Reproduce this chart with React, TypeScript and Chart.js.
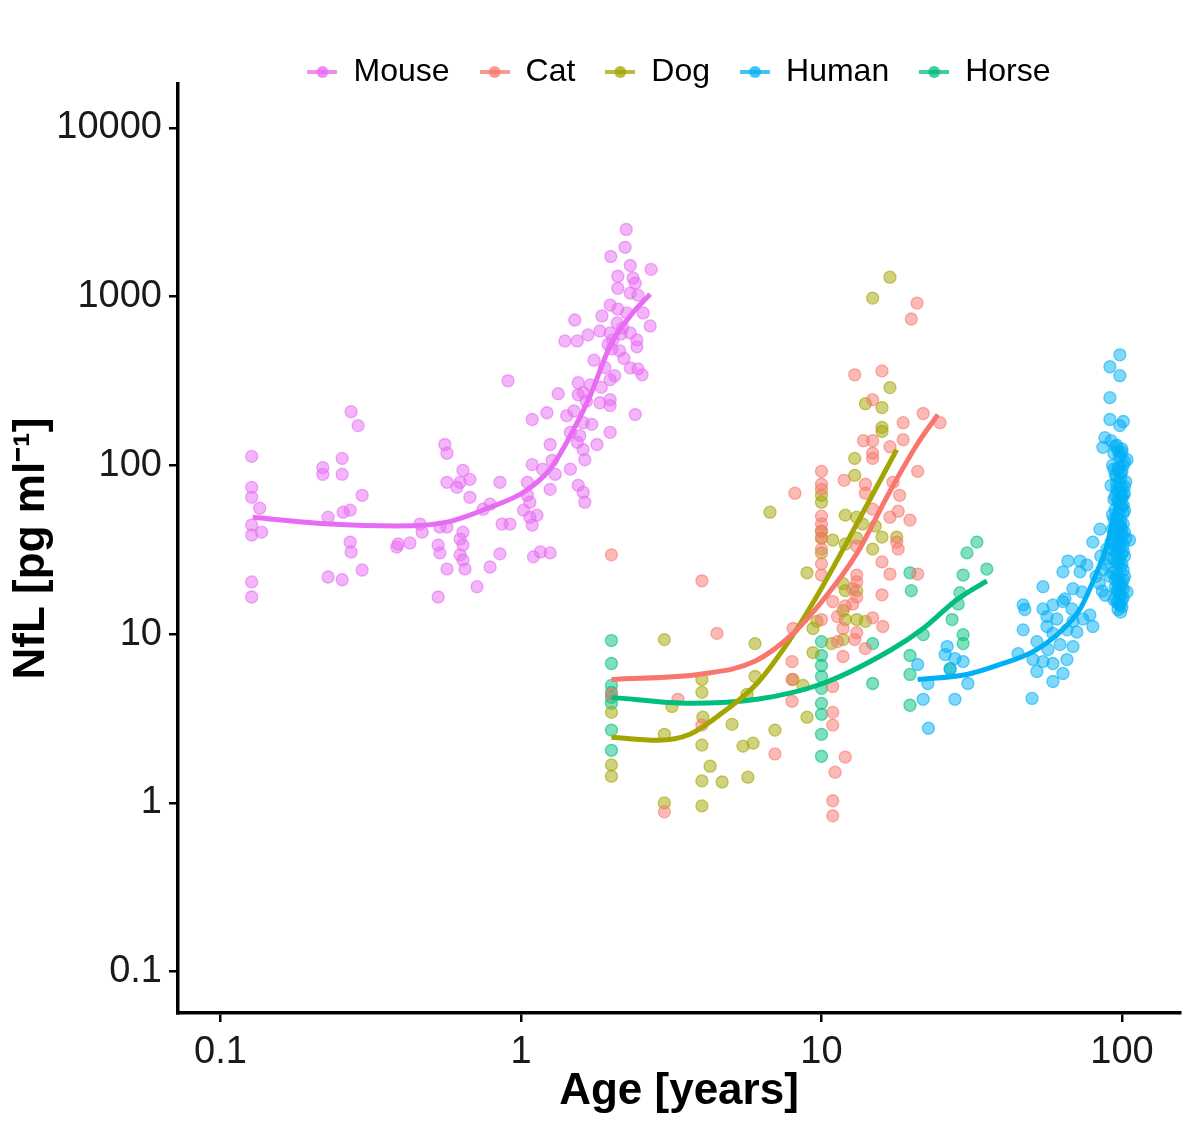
import { useEffect, useRef } from "react";
import { Chart, registerables } from "chart.js";

Chart.register(...registerables);

// ---- data: [age in years, NfL in pg/ml] ----
const species = ["Mouse", "Cat", "Dog", "Human", "Horse"];

const mousePoints = [
  [2.24, 2500], [2.22, 1960], [1.99, 1730], [2.31, 1530], [2.71, 1450], [2.1, 1320], [2.36, 1290],
  [2.4, 1200], [2.1, 1120], [2.31, 1050], [2.45, 1020], [1.98, 891], [2.1, 844], [2.25, 800],
  [2.55, 800], [1.86, 768], [1.51, 727], [2.09, 698], [2.18, 652], [2.69, 670], [1.83, 626],
  [1.98, 609], [2.31, 609], [1.67, 593], [1.4, 546], [1.54, 546], [2.02, 554], [2.43, 554],
  [2.01, 490], [2.13, 477], [2.43, 504], [2.31, 378], [2.53, 344], [2.45, 373], [0.905, 317],
  [1.55, 309], [1.98, 322], [1.33, 266], [1.55, 262], [1.61, 270], [1.83, 235], [1.98, 245],
  [1.98, 226], [1.22, 205], [1.42, 197], [1.61, 179], [1.72, 175], [1.09, 187], [2.4, 200],
  [1.46, 157], [1.57, 150], [1.98, 157], [1.79, 133], [1.61, 124], [1.54, 137], [1.25, 133],
  [1.27, 107], [1.63, 108], [1.09, 101], [1.18, 95], [1.3, 88.5], [1.46, 95], [0.851, 79.4],
  [1.05, 79.4], [1.55, 76.2], [1.61, 69.3], [1.63, 60.5], [1.25, 72.1], [1.05, 66.5], [1.07, 60.5],
  [1.02, 54.3], [1.07, 49.3], [1.13, 50.7], [1.09, 44.3], [0.789, 58.9], [0.748, 55], [0.865, 44.9],
  [0.919, 44.9], [0.676, 64.7], [0.567, 79.4], [0.612, 74.1], [0.641, 93.5], [0.676, 82.6],
  [0.627, 79.4], [0.558, 133], [0.567, 118], [0.851, 29.9], [1.25, 30.3], [1.16, 30.7], [1.1, 28.7],
  [0.789, 25], [0.714, 19.1], [0.641, 40.2], [0.627, 36.6], [0.641, 33.7], [0.627, 29.5],
  [0.641, 27.5], [0.651, 24.3], [0.567, 24.3], [0.53, 33.7], [0.537, 30.3], [0.53, 16.6],
  [0.461, 44.9], [0.469, 40.2], [0.537, 43.1], [0.567, 43.1], [0.39, 34.2], [0.427, 34.7],
  [0.386, 32.8], [0.27, 35.1], [0.272, 30.7], [0.296, 24], [0.228, 21.8], [0.254, 21], [0.256, 52.8],
  [0.27, 54.3], [0.296, 66.5], [0.228, 49.3], [0.219, 97], [0.219, 88.5], [0.254, 110], [0.254, 88.5],
  [0.272, 208], [0.287, 172], [0.127, 113], [0.127, 74.1], [0.127, 64.7], [0.135, 55.7],
  [0.127, 44.3], [0.127, 38.7], [0.137, 40.2], [0.127, 20.4], [0.127, 16.6],
  [1.75, 420], [1.9, 380], [2.05, 340], [1.7, 300], [1.85, 290], [2.2, 430], [1.95, 520],
  [2.15, 600], [1.65, 240], [1.5, 210],
];

const catPoints = [
  [20.8, 916], [19.9, 737], [12.9, 344], [15.9, 363], [14.8, 245], [21.8, 203], [24.8, 179],
  [18.7, 179], [13.8, 140], [14.8, 140], [18.7, 142], [16.9, 129], [14.8, 118], [14.8, 110],
  [10, 92.2], [11.9, 81.6], [20.9, 92.2], [10, 77.3], [10, 72.1], [8.16, 68.4], [14, 77.3],
  [14, 68.4], [17.3, 79.4], [18.2, 66.5], [14.8, 55], [16.9, 49.3], [18, 53.5], [19.7, 47.4],
  [10, 40.8], [10, 37.1], [10, 31.9], [10, 26.1], [10, 22.4], [13.1, 33.3], [17.8, 35.1],
  [18, 31.9], [15.9, 26.8], [16.9, 22.7], [20.9, 22.7], [13.1, 22.4], [13.1, 20.4], [12.7, 18.6],
  [13.1, 16.6], [12.7, 15.1], [15.9, 17.1], [10.9, 15.6], [12, 14.7], [11.3, 12.7], [10, 12.2],
  [14.8, 12.5], [16, 11.1], [11.8, 10.8], [13.1, 10.2], [8.04, 10.8], [2, 29.5], [4, 20.7],
  [4.49, 10.1], [11.3, 9.03], [11.8, 7.37], [12.9, 9.28], [14, 8.21], [7.98, 6.88], [7.98, 5.39],
  [7.98, 4], [10.9, 4.9], [10.9, 3.44], [10.9, 2.89], [2, 4.4], [3.33, 4.11], [4, 2.89], [7, 1.95],
  [12, 1.87], [11.1, 1.52], [10.9, 1.03], [10.9, 0.838], [3, 0.885], [10, 50], [10, 45],
];

const dogPoints = [
  [16.9, 1303], [14.8, 980], [16.9, 289], [14, 232], [15.9, 220], [15.9, 168], [15.9, 159],
  [12.9, 110], [12.9, 87.3], [10, 66.5], [10, 60.5], [6.74, 52.8], [12, 50.7], [13.1, 49.3],
  [13.7, 44.9], [15.1, 43.7], [10, 40.8], [10, 37.1], [10, 30.3], [10.9, 36.1], [12, 34.2],
  [13.1, 37.1], [14.8, 31.9], [17.8, 37.6], [15.9, 37.6], [8.95, 23.1], [11.8, 19.9], [12, 18.1],
  [13.1, 18.1], [11.8, 13.8], [12, 12.2], [13.1, 12.2], [14, 11.9], [9.66, 11.9], [9.37, 10.8],
  [10.8, 8.79], [11.8, 9.28], [9.37, 7.78], [6.01, 8.79], [8.04, 5.39], [8.68, 4.97], [6.01, 5.61],
  [3, 9.28], [4, 4.52], [4, 5.39], [5.65, 4.4], [3.18, 3.73], [2, 3.44], [2, 1.68], [2, 1.44],
  [3, 2.55], [4.03, 3.22], [5.04, 2.92], [4, 2.2], [5.48, 2.17], [5.92, 2.26], [7, 2.7],
  [8.95, 3.22], [4.26, 1.65], [4, 1.35], [4.67, 1.33], [5.69, 1.42], [3, 1], [4, 0.96],
];

const humanPoints = [
  [98.4, 452], [91.2, 384], [98.4, 340], [91.2, 252], [91.2, 187], [101, 182], [98.4, 172],
  [87.7, 146], [86.4, 128], [104, 108], [106, 36.1], [80, 35.1], [84.5, 41.9], [66.1, 27.1],
  [72.5, 27.1], [76.4, 25.7], [63.6, 23.4], [72.5, 23.4], [54.6, 19.1], [68.7, 18.6], [73.6, 17.8],
  [64.6, 16.2], [46.9, 14.9], [47.5, 14], [54.6, 14.1], [58.9, 14.9], [63.6, 15.6], [68.2, 14.1],
  [56.3, 12.7], [60.7, 12.3], [68.7, 11.9], [74.1, 12.3], [78.2, 13], [104, 17.8], [101, 18.6],
  [46.9, 10.6], [56.3, 11.1], [58.9, 10.1], [65.6, 10.6], [70.8, 10.3], [80, 11.1], [52.1, 9.03],
  [56.7, 8.1], [62.2, 8.67], [68.7, 8.44], [45.1, 7.67], [50.6, 7.07], [54.6, 6.88], [58.9, 6.7],
  [65.6, 7.07], [52.1, 6.01], [58.9, 5.24], [63.6, 5.85], [50.2, 4.16], [26.2, 8.44], [27.8, 7.17],
  [29.6, 6.88], [25.8, 7.57], [30.7, 5.1], [27.8, 4.11], [22.6, 5.1], [21.8, 4.11], [22.7, 2.77],
  [20.9, 6.61], [26.8, 6.18],
  [92, 140], [96, 132], [100, 125], [94, 118], [98, 112], [102, 105], [93, 100], [97, 96],
  [100, 92], [95, 88], [99, 84], [103, 80], [92, 76], [96, 72], [99, 69], [101, 66], [94, 63],
  [97, 60], [100, 57], [102, 54], [93, 51], [96, 49], [99, 47], [101, 45], [95, 43], [98, 41],
  [100, 39], [103, 37], [92, 35], [95, 33], [98, 32], [100, 30], [102, 29], [94, 28], [97, 26],
  [99, 25], [101, 24], [93, 23], [96, 22], [98, 21], [100, 20], [95, 19], [97, 18], [99, 17],
  [101, 16.5], [94, 16], [96, 15.5], [98, 15], [100, 14.5], [97, 14], [99, 13.5], [95, 24],
  [97, 34], [99, 44], [101, 58], [96, 78], [98, 98], [100, 120], [93, 42], [95, 55], [97, 70],
  [99, 90], [102, 75], [94, 36], [96, 27], [98, 52], [100, 64], [101, 34], [97, 45], [99, 38],
  [90, 28], [91, 22], [89, 32], [88, 26], [86, 24], [85, 29], [84, 20], [82, 22], [86, 18], [88, 17],
  [95, 130], [97, 122], [99, 115], [101, 100], [94, 95], [96, 86], [98, 80], [100, 74], [102, 68],
  [95, 66], [97, 62], [99, 58], [101, 52], [94, 48], [96, 46], [98, 44], [100, 42], [102, 40],
  [95, 38], [97, 37], [99, 35], [101, 31], [94, 31], [96, 30], [98, 28], [100, 26], [102, 22],
  [95, 21], [97, 20], [99, 19], [101, 21], [96, 18], [98, 17], [100, 16], [97, 15.5], [99, 15],
];

const horsePoints = [
  [2, 9.16], [2, 6.7], [2, 4.97], [2, 4.52], [2, 4.22], [2, 3.89], [2, 2.7], [2, 2.05],
  [10, 9.03], [10, 7.47], [10, 6.52], [10, 5.61], [10, 4.77], [10, 3.89], [10, 3.35], [10, 2.55],
  [10, 1.89], [14.8, 8.79], [14.8, 5.1], [19.7, 23.1], [19.9, 18.1], [19.7, 7.47], [19.7, 5.77],
  [19.7, 3.79], [21.8, 9.93], [28.9, 17.6], [28.5, 15.1], [30.5, 30.3], [32.9, 35.1], [29.6, 22.4],
  [35.5, 24.3], [27.2, 12.2], [29.6, 9.93], [29.6, 8.79], [26.8, 6.26],
];

// fitted trend curves, read at a few ages
const mouseFit = [
  [0.128, 49.3], [0.231, 44.9], [0.386, 43.7], [0.567, 46.1], [0.789, 56.5], [1.02, 69.3],
  [1.25, 95], [1.46, 150], [1.7, 259], [1.98, 511], [2.31, 768], [2.69, 1035],
];
const catFit = [
  [2, 5.39], [4, 5.8], [6, 6.9], [8, 10], [10, 15.5], [13.1, 30], [16.9, 70.3], [20.8, 133], [24.4, 200],
];
const dogFit = [
  [2, 2.45], [2.84, 2.35], [3.65, 2.55], [4.7, 3.44], [6.1, 5.1], [7.85, 9.28], [10.1, 19.3],
  [13.1, 44.9], [17.8, 124],
];
const humanFit = [
  [20.9, 5.39], [30.5, 5.77], [39.3, 6.61], [50.6, 7.88], [62.2, 10.3], [72.5, 14.1], [82.6, 23.4],
  [89.1, 33.7], [96.2, 58.1], [104, 66.5],
];
const horseFit = [
  [2, 4.22], [3.65, 3.89], [6.1, 4.11], [10.1, 5.1], [16.9, 8], [21.8, 10.8], [28.2, 16], [35.5, 20.7],
];

const xTicks = [0.1, 1, 10, 100];
const xTickLabels = ["0.1", "1", "10", "100"];
const yTicks = [0.1, 1, 10, 100, 1000, 10000];
const yTickLabels = ["0.1", "1", "10", "100", "1000", "10000"];

// ---- styling ----
const colors: Record<string, string> = {
  Mouse: "#E76BF3",
  Cat: "#F8766D",
  Dog: "#A3A500",
  Human: "#00B0F6",
  Horse: "#00BF7D",
};
const pointsBy: Record<string, number[][]> = {
  Mouse: mousePoints,
  Cat: catPoints,
  Dog: dogPoints,
  Human: humanPoints,
  Horse: horsePoints,
};
const fitsBy: Record<string, number[][]> = {
  Mouse: mouseFit,
  Cat: catFit,
  Dog: dogFit,
  Human: humanFit,
  Horse: horseFit,
};

const rgba = (hex: string, a: number) => {
  const n = parseInt(hex.slice(1), 16);
  return `rgba(${(n >> 16) & 255},${(n >> 8) & 255},${n & 255},${a})`;
};
const toXY = (pts: number[][]) => pts.map(([x, y]) => ({ x, y }));

// small line + dot key, like the ggplot legend
const makeKey = (hex: string) => {
  const c = document.createElement("canvas");
  c.width = 30;
  c.height = 16;
  const ctx = c.getContext("2d")!;
  ctx.strokeStyle = rgba(hex, 0.75);
  ctx.lineWidth = 4;
  ctx.beginPath();
  ctx.moveTo(0, 8);
  ctx.lineTo(30, 8);
  ctx.stroke();
  ctx.fillStyle = rgba(hex, 0.75);
  ctx.beginPath();
  ctx.arc(15, 8, 6, 0, Math.PI * 2);
  ctx.fill();
  return c;
};

// legend sits over the top of the plot panel, as in the figure
const legendOverlap = {
  id: "legendOverlap",
  beforeLayout(chart: any) {
    const lg = chart.legend;
    if (!lg || lg._patched) return;
    const fit = lg.fit.bind(lg);
    lg.fit = () => {
      fit();
      lg.height -= 14;
    };
    lg.draw = function () {
      if (this.options.display) this._draw();
    };
    lg._patched = true;
  },
};

export default function App() {
  const canvasRef = useRef<HTMLCanvasElement>(null);

  useEffect(() => {
    document.body.style.margin = "0";
    if (!canvasRef.current) return;

    Chart.defaults.font.family = "'Liberation Sans', Arial, sans-serif";
    const keys = species.map((s) => makeKey(colors[s]));

    const scatterSets = species.map((s) => ({
      label: s,
      data: toXY(pointsBy[s]),
      backgroundColor: rgba(colors[s], 0.5),
      borderColor: rgba(colors[s], 0.6),
      borderWidth: 1.3,
      pointRadius: 6,
      order: 1,
    }));
    const fitSets = species.map((s) => ({
      label: s + " fit",
      data: toXY(fitsBy[s]),
      showLine: true,
      pointRadius: 0,
      borderColor: colors[s],
      backgroundColor: colors[s],
      borderWidth: 5,
      cubicInterpolationMode: "monotone" as const,
      fill: false,
      order: 0,
    }));

    const axisGrid = {
      display: true,
      drawOnChartArea: false,
      drawTicks: true,
      tickLength: 9,
      lineWidth: 2.5,
      color: "#000",
    };
    const axisBorder = { display: true, color: "#000", width: 3.5 };

    const chart = new Chart(canvasRef.current, {
      type: "scatter",
      data: { datasets: [...scatterSets, ...fitSets] as any },
      plugins: [legendOverlap],
      options: {
        animation: false,
        responsive: true,
        maintainAspectRatio: false,
        events: [],
        layout: { padding: { top: 26, right: 20, bottom: 0, left: 0 } },
        plugins: {
          tooltip: { enabled: false },
          legend: {
            position: "top",
            align: "center",
            fullSize: false,
            labels: {
              usePointStyle: true,
              pointStyleWidth: 30,
              padding: 30,
              color: "#000",
              font: { size: 32 },
              generateLabels: () =>
                species.map((s, i) => ({
                  text: s,
                  pointStyle: keys[i] as any,
                  fillStyle: colors[s],
                  strokeStyle: colors[s],
                  lineWidth: 0,
                  hidden: false,
                  datasetIndex: i,
                  fontColor: "#000",
                })),
            },
          },
        },
        scales: {
          x: {
            type: "logarithmic",
            bounds: "data",
            min: 0.0722,
            max: 156,
            afterBuildTicks: (s: any) => {
              s.ticks = xTicks.map((v) => ({ value: v }));
            },
            afterFit: (s: any) => {
              s.height = 130;
            },
            ticks: {
              autoSkip: false,
              maxRotation: 0,
              padding: 8,
              color: "#1a1a1a",
              font: { size: 38 },
              callback: (v: any) => xTickLabels[xTicks.indexOf(Number(v))] ?? "",
            },
            grid: axisGrid,
            border: axisBorder,
            title: {
              display: true,
              text: "Age [years]",
              color: "#000",
              font: { size: 44, weight: "bold" },
              padding: { top: 0, bottom: 25 },
            },
          },
          y: {
            type: "logarithmic",
            bounds: "data",
            min: 0.0569,
            max: 18190,
            afterBuildTicks: (s: any) => {
              s.ticks = yTicks.map((v) => ({ value: v }));
            },
            afterFit: (s: any) => {
              s.width = 178;
            },
            ticks: {
              autoSkip: false,
              padding: 7,
              color: "#1a1a1a",
              font: { size: 38 },
              callback: (v: any) => yTickLabels[yTicks.indexOf(Number(v))] ?? "",
            },
            grid: axisGrid,
            border: axisBorder,
            title: {
              display: true,
              text: "NfL [pg ml⁻¹]",
              color: "#000",
              font: { size: 44, weight: "bold" },
              padding: { top: 5, bottom: 0 },
            },
          },
        },
      },
    });

    return () => chart.destroy();
  }, []);

  return (
    <div style={{ position: "relative", width: 1200, height: 1143 }}>
      <canvas ref={canvasRef} />
    </div>
  );
}
